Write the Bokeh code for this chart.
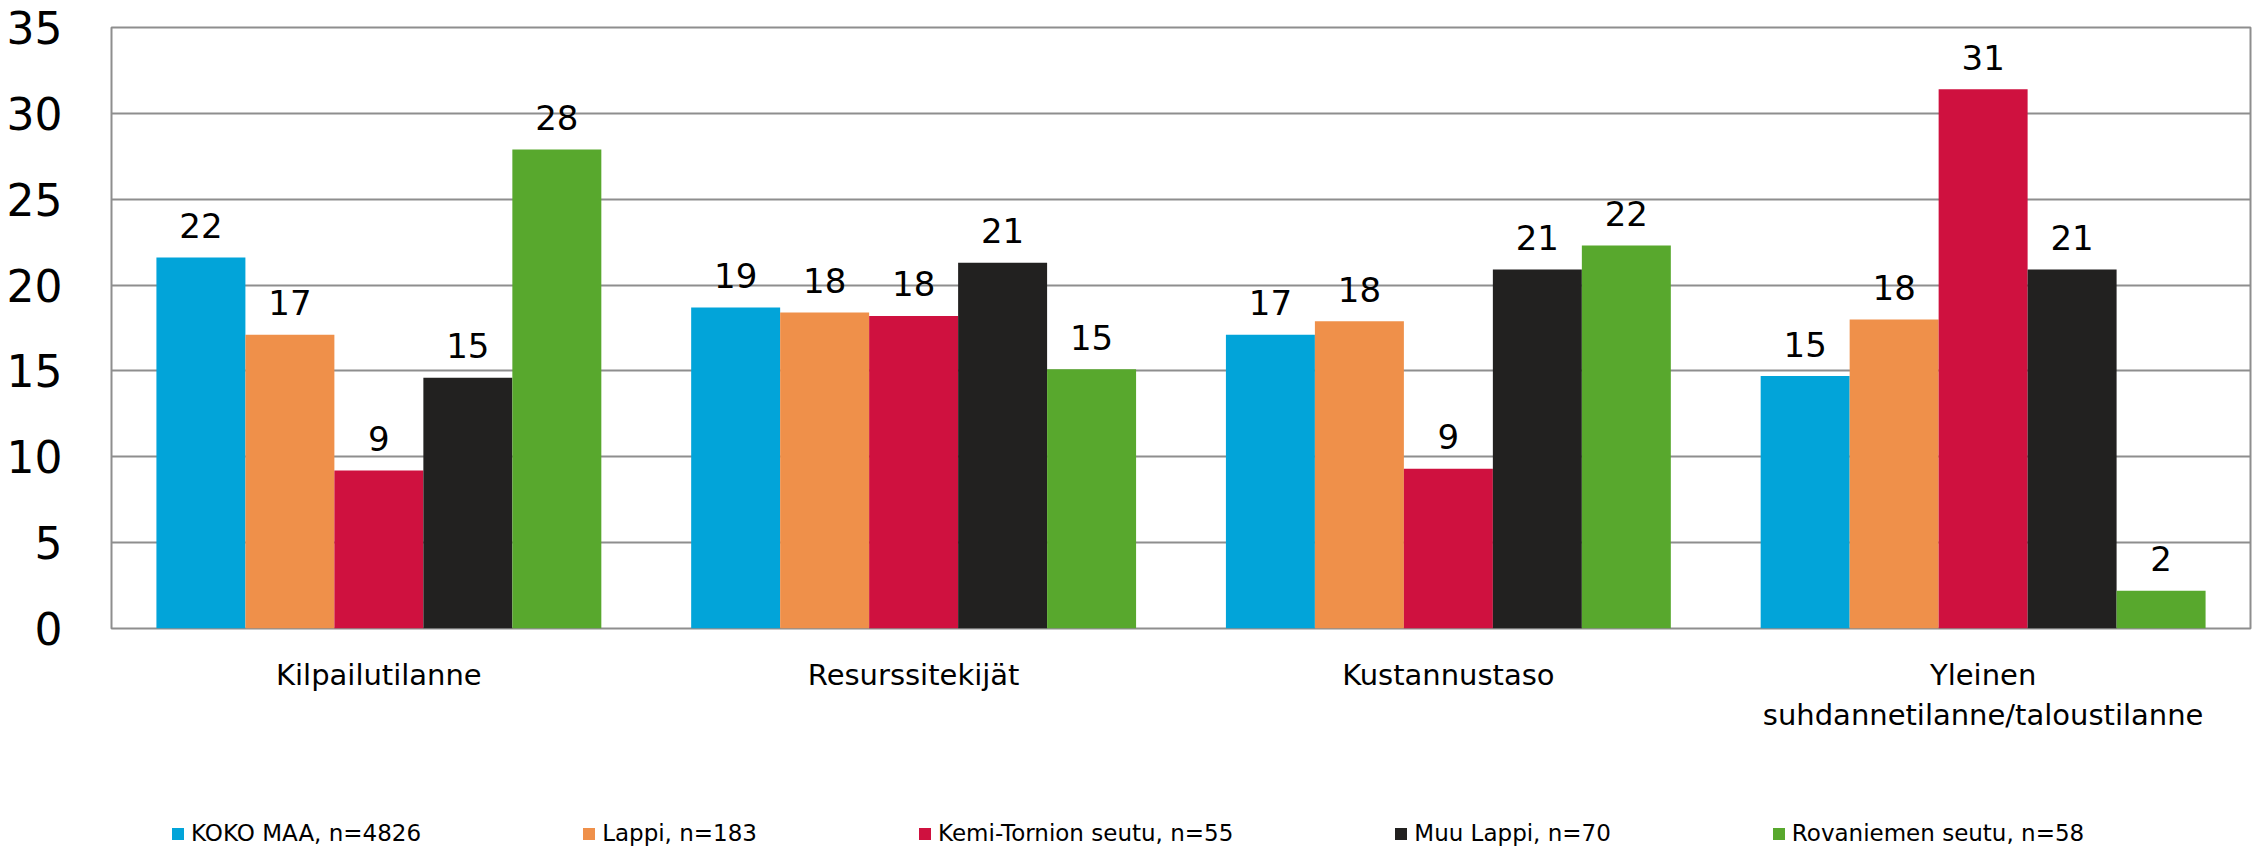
from bokeh.plotting import figure
from bokeh.layouts import column
from bokeh.models import (ColumnDataSource, FactorRange, Range1d, FixedTicker,
                          Legend, LegendItem)
from bokeh.transform import dodge
from bokeh.core.properties import value
from bokeh.embed import file_html
from bokeh.resources import INLINE

# ---- data ----
categories = ["Kilpailutilanne", "Resurssitekijät", "Kustannustaso",
              "Yleinen\nsuhdannetilanne/taloustilanne"]
series_names = ["KOKO MAA, n=4826", "Lappi, n=183", "Kemi-Tornion seutu, n=55",
                "Muu Lappi, n=70", "Rovaniemen seutu, n=58"]
koko_maa = [21.6, 18.7, 17.1, 14.7]
lappi = [17.1, 18.4, 17.9, 18.0]
kemi_tornio = [9.2, 18.2, 9.3, 31.4]
muu_lappi = [14.6, 21.3, 20.9, 20.9]
rovaniemi = [27.9, 15.1, 22.3, 2.2]
y_ticks = [0, 5, 10, 15, 20, 25, 30, 35]

series_values = [koko_maa, lappi, kemi_tornio, muu_lappi, rovaniemi]
colors = ["#02A4D9", "#EF904A", "#CF113F", "#222120", "#58A82D"]

FONT = "DejaVu Sans"
GRID = "#8E8E8E"
W = 2258

p = figure(x_range=FactorRange(*categories, range_padding=0),
           y_range=Range1d(0, 35),
           width=W, height=817, output_backend="svg", toolbar_location=None,
           min_border_left=111, min_border_right=8, min_border_top=27,
           min_border_bottom=189)

p.background_fill_color = "white"
p.border_fill_color = "white"
p.outline_line_color = GRID
p.outline_line_width = 2

p.xgrid.grid_line_color = None
p.ygrid.grid_line_color = GRID
p.ygrid.grid_line_width = 2

# axes
p.yaxis.ticker = FixedTicker(ticks=y_ticks)
p.yaxis.axis_line_color = None
p.yaxis.major_tick_line_color = None
p.yaxis.minor_tick_line_color = None
p.yaxis.major_label_text_font = FONT
p.yaxis.major_label_text_font_size = "44px"
p.yaxis.major_label_text_color = "#000000"
p.yaxis.major_label_standoff = 43

p.xaxis.axis_line_color = None
p.xaxis.major_tick_line_color = None
p.xaxis.major_label_text_font = FONT
p.xaxis.major_label_text_font_size = "29px"
p.xaxis.major_label_text_color = "#000000"
p.xaxis.major_label_standoff = 23

bar_w = 0.1664
for i, (name, vals, col) in enumerate(zip(series_names, series_values, colors)):
    src = ColumnDataSource(dict(cat=categories, val=vals,
                                lbl=[f"{v:.0f}" for v in vals]))
    off = (i - 2) * bar_w
    p.vbar(x=dodge("cat", off, range=p.x_range), top="val", width=bar_w,
           source=src, fill_color=col, line_color=None)
    p.text(x=dodge("cat", off, range=p.x_range), y="val", text="lbl", source=src,
           text_align="center", text_baseline="middle", y_offset=-32,
           text_font=value(FONT), text_font_size="34px", text_color="#000000")

# ---- legend strip below the chart ----
lp = figure(width=W, height=30, output_backend="svg", toolbar_location=None,
            x_range=Range1d(0, 1), y_range=Range1d(0, 1),
            x_axis_location=None, y_axis_location=None, min_border=0)
lp.outline_line_color = None
lp.grid.grid_line_color = None
lp.background_fill_color = "white"
lp.border_fill_color = "white"

items = []
for name, col in zip(series_names, colors):
    # zero-size swatch carrier: only its legend entry is visible
    r = lp.vbar(x=[0], top=[0], width=0, fill_color=col, line_color=None)
    items.append(LegendItem(label=name, renderers=[r]))

legend = Legend(items=items, location=(59, 0), orientation="horizontal",
                spacing=160, padding=0, margin=0, border_line_color=None,
                background_fill_alpha=0, glyph_width=15, glyph_height=15,
                label_height=28, label_standoff=6, label_text_font=FONT,
                label_text_font_size="23px", label_text_color="#000000",
                label_text_baseline="middle")
lp.add_layout(legend, "center")

layout = column(p, lp, spacing=0)
open("out.html", "w").write(file_html(layout, INLINE))
